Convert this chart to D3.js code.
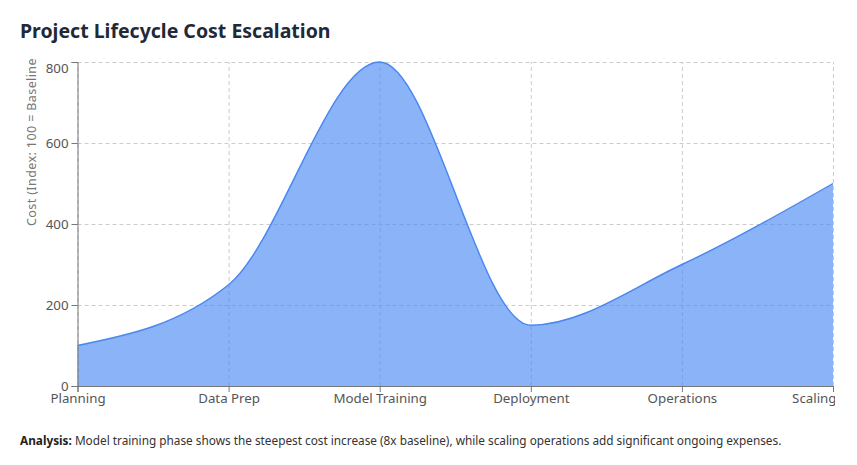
<!DOCTYPE html>
<meta charset="utf-8">
<style>
body { margin: 0; font-family: "Noto Sans", "Open Sans", sans-serif; background: #fff; }
h2 { margin: 0; position: absolute; left: 20px; top: 17px; font-size: 19.5px; font-weight: 700; color: #1f2937; }
#chart { position: absolute; left: 20px; top: 58px; }
p.note { position: absolute; left: 20px; top: 432px; margin: 0; font-size: 11.8px; color: #333; }
.grid line { stroke: #ccc; stroke-dasharray: 4,3; }
.grid path { display: none; }
.axis text { font-size: 13.3px; fill: #555; font-family: "Noto Sans", sans-serif; }
.axis path, .axis line { stroke: #777; }
</style>
<body>
<h2>Project Lifecycle Cost Escalation</h2>
<div id="chart"></div>
<p class="note"><b style="color:#222">Analysis:</b> Model training phase shows the steepest cost increase (8x baseline), while scaling operations add significant ongoing expenses.</p>
<script src="https://d3js.org/d3.v7.min.js"></script>
<script>
var phases = ["Planning", "Data Prep", "Model Training", "Deployment", "Operations", "Scaling"];
var costs = [100, 250, 800, 150, 300, 500];
var yTicks = [0, 200, 400, 600, 800];

var margin = {top: 4, right: 2, bottom: 42, left: 57.5},
    width = 815 - margin.left - margin.right,
    height = 370 - margin.top - margin.bottom;

var svg = d3.select("#chart").append("svg")
    .attr("width", width + margin.left + margin.right)
    .attr("height", height + margin.top + margin.bottom)
  .append("g")
    .attr("transform", "translate(" + margin.left + "," + margin.top + ")");

var x = d3.scalePoint().domain(phases).range([0, width]);
var y = d3.scaleLinear().domain([0, 800]).range([height, 0]);

// grid
svg.append("g").attr("class", "grid")
    .call(d3.axisLeft(y).tickValues(yTicks).tickSize(-width).tickFormat(""));
svg.append("g").attr("class", "grid")
    .attr("transform", "translate(0," + height + ")")
    .call(d3.axisBottom(x).tickSize(-height).tickFormat(""));

var data = phases.map(function(p, i) { return {key: p, value: costs[i]}; });

var area = d3.area()
    .curve(d3.curveMonotoneX)
    .x(function(d) { return x(d.key); })
    .y0(height)
    .y1(function(d) { return y(d.value); });

var line = d3.line()
    .curve(d3.curveMonotoneX)
    .x(function(d) { return x(d.key); })
    .y(function(d) { return y(d.value); });

svg.append("path").datum(data)
    .attr("d", area)
    .attr("fill", "#4285f4")
    .attr("fill-opacity", 0.62);

svg.append("path").datum(data)
    .attr("d", line)
    .attr("fill", "none")
    .attr("stroke", "#4a86f0")
    .attr("stroke-width", 1.4);

// axes
var yAxis = svg.append("g").attr("class", "axis")
    .call(d3.axisLeft(y).tickValues(yTicks).tickSize(6).tickPadding(3));
// top label is kept inside the chart area
yAxis.selectAll(".tick text")
    .filter(function(d) { return d === 800; })
    .attr("dy", "0.32em")
    .attr("y", 6);

var xAxis = svg.append("g").attr("class", "axis")
    .attr("transform", "translate(0," + height + ")")
    .call(d3.axisBottom(x).tickSize(6).tickPadding(2));
xAxis.selectAll(".tick text")
    .filter(function(d, i) { return i === phases.length - 1; })
    .attr("text-anchor", "end")
    .attr("dx", 3);

// y label
svg.append("text")
    .attr("transform", "rotate(-90)")
    .attr("x", -height / 2 - 2)
    .attr("y", -42)
    .attr("text-anchor", "start")
    .attr("fill", "#777")
    .style("font-size", "12.5px")
    .style("letter-spacing", "0.4px")
    .text("Cost (Index: 100 = Baseline)");
</script>
</body>
